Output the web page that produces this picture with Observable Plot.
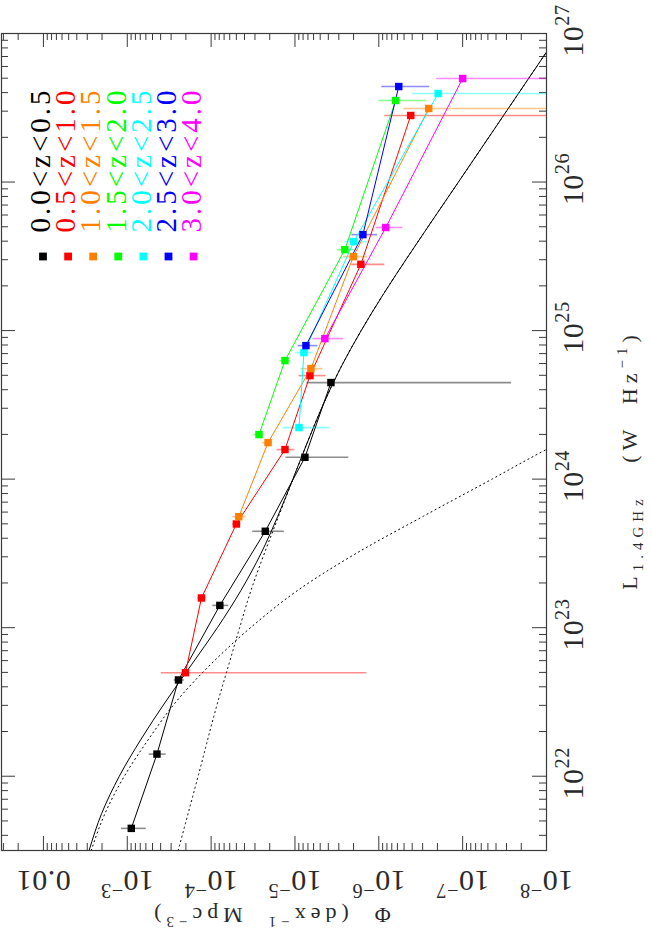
<!DOCTYPE html>
<html>
<head>
<meta charset="utf-8">
<script src="https://cdn.jsdelivr.net/npm/d3@7"></script>
<script src="https://cdn.jsdelivr.net/npm/@observablehq/plot@0.6"></script>
<style>
  html, body { margin: 0; padding: 0; background: #fff; }
  #chart svg { display: block; }
</style>
</head>
<body>
<div id="chart"></div>
<script>
// ---------------- data ----------------
const zBins = ["0.0<z<0.5", "0.5<z<1.0", "1.0<z<1.5", "1.5<z<2.0", "2.0<z<2.5", "2.5<z<3.0", "3.0<z<4.0"];
const binColors = ["#000000", "#ff0000", "#ff8000", "#00ff00", "#00ffff", "#0000ff", "#ff00ff"];

// log10 L (W/Hz), log10 Phi, and Phi error-bar ends (log10)
const logL_z0 = [21.649, 22.149, 22.648, 23.150, 23.649, 24.147, 24.650];
const logPhi_z0 = [-3.048, -3.354, -3.611, -4.104, -4.646, -5.119, -5.429];
const errUp_z0 = [-2.930, -3.262, -3.560, -4.020, -4.496, -4.893, -5.143];
const errDn_z0 = [-3.226, -3.464, -3.680, -4.210, -4.873, -5.643, -7.583];

const logL_z1 = [22.697, 23.200, 23.698, 24.199, 24.697, 25.446, 26.448];
const logPhi_z1 = [-3.694, -3.885, -4.301, -4.881, -5.179, -5.786, -6.381];
const errUp_z1 = [-3.405, -3.840, -4.258, -4.786, -5.048, -5.679, -6.071];
const errDn_z1 = [-5.857, -3.940, -4.357, -5.000, -5.369, -6.071, -9.000];

const logL_z2 = [23.747, 24.246, 24.744, 25.498, 26.495];
const logPhi_z2 = [-4.330, -4.679, -5.190, -5.696, -6.595];
const errUp_z2 = [-4.258, -4.615, -5.071, -5.577, -6.298];
const errDn_z2 = [-4.417, -4.735, -5.333, -5.865, -9.000];

const logL_z3 = [24.300, 24.798, 25.545, 26.549];
const logPhi_z3 = [-4.571, -4.881, -5.595, -6.202];
const errUp_z3 = [-4.510, -4.820, -5.500, -6.000];
const errDn_z3 = [-4.630, -4.950, -5.714, -6.571];

const logL_z4 = [24.347, 24.852, 25.599, 26.596];
const logPhi_z4 = [-5.048, -5.107, -5.702, -6.708];
const errUp_z4 = [-4.857, -5.010, -5.595, -6.405];
const errDn_z4 = [-5.417, -5.214, -5.869, -9.000];

const logL_z5 = [24.899, 25.646, 26.643];
const logPhi_z5 = [-5.131, -5.810, -6.238];
const errUp_z5 = [-5.036, -5.679, -6.036];
const errDn_z5 = [-5.274, -5.988, -6.607];

const logL_z6 = [24.946, 25.694, 26.697];
const logPhi_z6 = [-5.357, -6.083, -7.000];
const errUp_z6 = [-5.214, -5.964, -6.690];
const errDn_z6 = [-5.583, -6.286, -9.000];

// model curves
const totalLogL = [21.5, 21.75, 22.0, 22.25, 22.5, 22.75, 23.0, 23.25, 23.5, 23.75, 24.0, 24.25, 24.5, 24.75, 25.0, 25.25, 25.5, 26.0, 26.5, 26.875, 27.0];
const totalLogPhi = [-2.545, -2.695, -2.905, -3.165, -3.455, -3.765, -4.075, -4.355, -4.595, -4.795, -4.975, -5.150, -5.335, -5.545, -5.790, -6.060, -6.350, -6.950, -7.550, -8.000, -8.150];
const sfgLogL = [21.5, 21.75, 22.0, 22.25, 22.5, 22.75, 23.0, 23.25, 23.5, 23.75, 24.0, 24.2, 24.3];
const sfgLogPhi = [-2.570, -2.735, -2.965, -3.255, -3.580, -3.990, -4.470, -5.030, -5.730, -6.530, -7.350, -8.000, -8.350];
const agnLogL = [21.5, 22.0, 22.5, 22.75, 23.0, 23.25, 23.5, 23.75, 24.0, 24.25, 24.5, 24.75, 25.0, 25.25, 25.5, 26.0, 26.5, 26.875, 27.0];
const agnLogPhi = [-3.607, -3.845, -4.080, -4.210, -4.340, -4.475, -4.635, -4.805, -4.977, -5.150, -5.335, -5.545, -5.790, -6.060, -6.350, -6.950, -7.550, -8.000, -8.150];

// axis ticks & labels
const phiTickValues = [1e-2, 1e-3, 1e-4, 1e-5, 1e-6, 1e-7, 1e-8];
const phiTickLabels = ["0.01", "10^{−3}", "10^{−4}", "10^{−5}", "10^{−6}", "10^{−7}", "10^{−8}"];
const lTickValues = [1e22, 1e23, 1e24, 1e25, 1e26, 1e27];
const lTickLabels = ["10^{22}", "10^{23}", "10^{24}", "10^{25}", "10^{26}", "10^{27}"];
const xTitle = "Φ  (dex^{−1}  Mpc^{−3})";
const yTitle = "L_{1.4GHz}   (W  Hz^{−1})";

// ---------------- build ----------------
const binArrays = [
  [logL_z0, logPhi_z0, errUp_z0, errDn_z0],
  [logL_z1, logPhi_z1, errUp_z1, errDn_z1],
  [logL_z2, logPhi_z2, errUp_z2, errDn_z2],
  [logL_z3, logPhi_z3, errUp_z3, errDn_z3],
  [logL_z4, logPhi_z4, errUp_z4, errDn_z4],
  [logL_z5, logPhi_z5, errUp_z5, errDn_z5],
  [logL_z6, logPhi_z6, errUp_z6, errDn_z6]
];
const binRows = binArrays.map(([lL, lP, eU, eD]) =>
  lL.map((l, j) => ({L: 10 ** l, phi: 10 ** lP[j], up: 10 ** eU[j], dn: 10 ** eD[j]})));
const toRows = (lL, lP) => lL.map((l, j) => ({L: 10 ** l, phi: 10 ** lP[j]}));
const totalRows = toRows(totalLogL, totalLogPhi);
const sfgRows = toRows(sfgLogL, sfgLogPhi);
const agnRows = toRows(agnLogL, agnLogPhi);

const W = 653, H = 945, mL = 1, mR = 107, mT = 33, mB = 95;
const fw = W - mL - mR, fh = H - mT - mB;
const xDomain = [10 ** -1.5, 1e-8];
const yDomain = [10 ** 21.5, 1e27];
const tickColor = "#3a3a3a";
const textColor = "#2a2a2a";

const phiAll = d3.scaleLog().domain([1e-8, 10 ** -1.5]).ticks();
const phiMinor = phiAll.filter(v => !phiTickValues.some(t => Math.abs(t / v - 1) < 1e-6));
const lAll = d3.scaleLog().domain(yDomain).ticks();
const lMinor = lAll.filter(v => !lTickValues.some(t => Math.abs(t / v - 1) < 1e-6));

const marks = [
  // ticks (inward, all four sides)
  Plot.ruleX(phiMinor, {x: d => d, insetTop: fh - 7, stroke: tickColor}),
  Plot.ruleX(phiMinor, {x: d => d, insetBottom: fh - 7, stroke: tickColor}),
  Plot.ruleX(phiTickValues, {x: d => d, insetTop: fh - 14, stroke: tickColor}),
  Plot.ruleX(phiTickValues, {x: d => d, insetBottom: fh - 14, stroke: tickColor}),
  Plot.ruleY(lMinor, {y: d => d, insetLeft: fw - 7, stroke: tickColor}),
  Plot.ruleY(lMinor, {y: d => d, insetRight: fw - 7, stroke: tickColor}),
  Plot.ruleY(lTickValues, {y: d => d, insetLeft: fw - 14, stroke: tickColor}),
  Plot.ruleY(lTickValues, {y: d => d, insetRight: fw - 14, stroke: tickColor}),
  Plot.frame({stroke: tickColor, strokeWidth: 1.2}),
  // tick labels
  Plot.text(phiTickValues, {x: d => d, frameAnchor: "bottom", dy: 20, rotate: 180,
    textAnchor: "middle", lineAnchor: "bottom", fontSize: 30, fill: textColor,
    text: (d, i) => phiTickLabels[i]}),
  Plot.text(lTickValues, {y: d => d, frameAnchor: "right", dx: 36, dy: -3, rotate: -90,
    textAnchor: "middle", lineAnchor: "bottom", fontSize: 30, fill: textColor,
    text: (d, i) => lTickLabels[i]}),
  // axis titles
  Plot.text([xTitle], {frameAnchor: "bottom", dx: -4, dy: 57, rotate: 180,
    textAnchor: "middle", lineAnchor: "bottom", fontSize: 22, fill: textColor}),
  Plot.text([yTitle], {frameAnchor: "right", dx: 90, dy: 18, rotate: -90,
    textAnchor: "middle", lineAnchor: "bottom", fontSize: 22, fill: textColor}),
  // model curves
  Plot.line(sfgRows, {x: "phi", y: "L", curve: "monotone-y", stroke: "#000", strokeWidth: 1,
    strokeDasharray: "1.2,3.4", clip: true}),
  Plot.line(agnRows, {x: "phi", y: "L", curve: "monotone-y", stroke: "#000", strokeWidth: 1,
    strokeDasharray: "1.2,3.4", clip: true}),
  Plot.line(totalRows, {x: "phi", y: "L", curve: "monotone-y", stroke: "#000", strokeWidth: 1,
    clip: true})
];

binRows.forEach((rows, i) => {
  marks.push(Plot.ruleY(rows, {y: "L", x1: "up", x2: "dn", stroke: binColors[i],
    strokeOpacity: 0.45, strokeWidth: 1.6, clip: true}));
});
binRows.forEach((rows, i) => {
  marks.push(Plot.line(rows, {x: "phi", y: "L", stroke: binColors[i], strokeWidth: 1}));
});
binRows.forEach((rows, i) => {
  marks.push(Plot.dot(rows, {x: "phi", y: "L", symbol: "square", r: 4.2, fill: binColors[i], stroke: "none"}));
});
// legend (inside the frame, top-left)
zBins.forEach((name, i) => {
  marks.push(Plot.dot([name], {frameAnchor: "top-left", dx: 41.5 + 25.1 * i, dy: 223,
    symbol: "square", r: 4.4, fill: binColors[i], stroke: "none"}));
  marks.push(Plot.text([name], {frameAnchor: "top-left", dx: 48.5 + 25.2 * i, dy: 199,
    rotate: -90, textAnchor: "start", lineAnchor: "bottom", fontSize: 29, fill: binColors[i]}));
});

const chart = Plot.plot({
  width: W, height: H,
  marginLeft: mL, marginRight: mR, marginTop: mT, marginBottom: mB,
  x: {type: "log", domain: xDomain, axis: null},
  y: {type: "log", domain: yDomain, axis: null},
  style: {fontFamily: "'Liberation Serif', 'DejaVu Serif', serif", background: "#fff", overflow: "visible"},
  marks
});
document.getElementById("chart").appendChild(chart);

// ---------------- rich text (super/subscripts) & spacing ----------------
const SVGNS = "http://www.w3.org/2000/svg";
function richify(t) {
  const s = t.textContent;
  if (!/[\^_]\{/.test(s)) return;
  const fs = parseFloat(getComputedStyle(t).fontSize);
  const re = /([\^_])\{([^}]*)\}/g;
  const parts = [];
  let last = 0, m;
  while ((m = re.exec(s))) {
    if (m.index > last) parts.push({t: s.slice(last, m.index), k: 0});
    parts.push({t: m[2], k: m[1] === "^" ? 1 : -1});
    last = re.lastIndex;
  }
  if (last < s.length) parts.push({t: s.slice(last), k: 0});
  t.textContent = "";
  let cur = 0;
  for (const p of parts) {
    const ts = document.createElementNS(SVGNS, "tspan");
    const target = p.k === 1 ? -0.45 * fs : p.k === -1 ? 0.3 * fs : 0;
    if (target !== cur) ts.setAttribute("dy", target - cur);
    cur = target;
    if (p.k) ts.setAttribute("font-size", 0.68 * fs);
    ts.textContent = p.t;
    t.appendChild(ts);
  }
}
chart.querySelectorAll("text").forEach(t => {
  const s = t.textContent;
  if (zBins.includes(s)) t.setAttribute("letter-spacing", "3");
  else if (s === xTitle || s === yTitle) t.setAttribute("letter-spacing", "5");
  else if (phiTickLabels.includes(s) || lTickLabels.includes(s)) t.setAttribute("letter-spacing", "0.5");
  richify(t);
});
</script>
</body>
</html>
